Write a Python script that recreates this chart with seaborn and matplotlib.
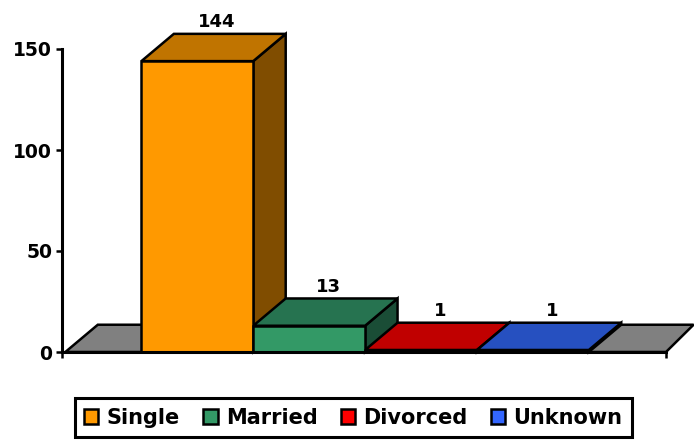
import matplotlib
matplotlib.use("Agg")
import matplotlib.pyplot as plt
import seaborn as sns
from matplotlib.patches import Polygon, Patch

# data
categories = ["Single", "Married", "Divorced", "Unknown"]
counts = [144, 13, 1, 1]
front_colors = ["#FF9900", "#339966", "#FF0000", "#3366FF"]
top_colors = ["#C07400", "#267350", "#C00000", "#2650C0"]
side_colors = ["#804D00", "#1A4D36", "#800000", "#1A3380"]
y_ticks = [0, 50, 100, 150]

sns.set_theme(style="white")
plt.rcParams["font.family"] = ["DejaVu Sans"]
plt.rcParams["text.color"] = "black"
plt.rcParams["xtick.color"] = "black"
plt.rcParams["ytick.color"] = "black"

lw = 1.8

fig = plt.figure(figsize=(6.94, 4.41), dpi=100)
ax = fig.add_axes([62 / 694, 1 - 352 / 441, 604 / 694, 303 / 441])

# depth of the fake 3d boxes, in data units
dx = 0.29
dy = 13.5
xmin, xmax = -1.21, 4.19

# grey floor behind everything
floor = Polygon([(xmin + 0.03, 0), (xmax, 0), (xmax + dx * 0.85, dy), (xmin + 0.03 + dx, dy)],
                closed=True, facecolor="#808080", edgecolor="black", linewidth=lw,
                clip_on=False, zorder=1)

sns.barplot(x=categories, y=counts, hue=categories, palette=front_colors,
            saturation=1, width=1.0, errorbar=None, legend=False, ax=ax,
            edgecolor="black", linewidth=lw)
bars = list(ax.patches)
ax.add_patch(floor)

for i, p in enumerate(bars):
    x0, w, h = p.get_x(), p.get_width(), p.get_height()
    p.set_zorder(3)
    p.set_clip_on(False)
    top = Polygon([(x0, h), (x0 + w, h), (x0 + w + dx, h + dy), (x0 + dx, h + dy)],
                  closed=True, facecolor=top_colors[i], edgecolor="black",
                  linewidth=lw, clip_on=False, zorder=2)
    side = Polygon([(x0 + w, 0), (x0 + w + dx, dy), (x0 + w + dx, h + dy), (x0 + w, h)],
                   closed=True, facecolor=side_colors[i], edgecolor="black",
                   linewidth=lw, clip_on=False, zorder=2)
    ax.add_patch(side)
    ax.add_patch(top)
    ax.annotate(str(counts[i]), (x0 + w / 2 + dx / 2, h + dy), xytext=(2, 2),
                textcoords="offset points", ha="center", va="bottom",
                fontsize=13, fontweight="bold", annotation_clip=False)

ax.set_xlim(xmin, xmax)
ax.set_ylim(0, 150)
ax.set_yticks(y_ticks)
ax.set_yticklabels([str(t) for t in y_ticks], fontsize=13.5, fontweight="bold")
ax.set_xticks([xmin, xmax])
ax.set_xticklabels([])
ax.tick_params(axis="both", direction="out", length=4, width=lw, color="black",
               left=True, bottom=True, pad=3)
ax.set_xlabel("")
ax.set_ylabel("")
for side_name in ["top", "right"]:
    ax.spines[side_name].set_visible(False)
for side_name in ["left", "bottom"]:
    ax.spines[side_name].set_color("black")
    ax.spines[side_name].set_linewidth(lw + 0.4)
    ax.spines[side_name].set_zorder(4)

handles = [Patch(facecolor=c, edgecolor="black", linewidth=lw) for c in front_colors]
leg = fig.legend(handles, categories, loc="center", bbox_to_anchor=(0.509, 0.053),
                 ncol=4, frameon=True, fancybox=False, edgecolor="black",
                 prop={"size": 15, "weight": "bold"}, handlelength=0.7, handleheight=0.7,
                 handletextpad=0.4, columnspacing=1.1, borderpad=0.45)
leg.get_frame().set_linewidth(lw + 0.4)
leg.get_frame().set_alpha(1)

fig.savefig("out.png", dpi=100)
